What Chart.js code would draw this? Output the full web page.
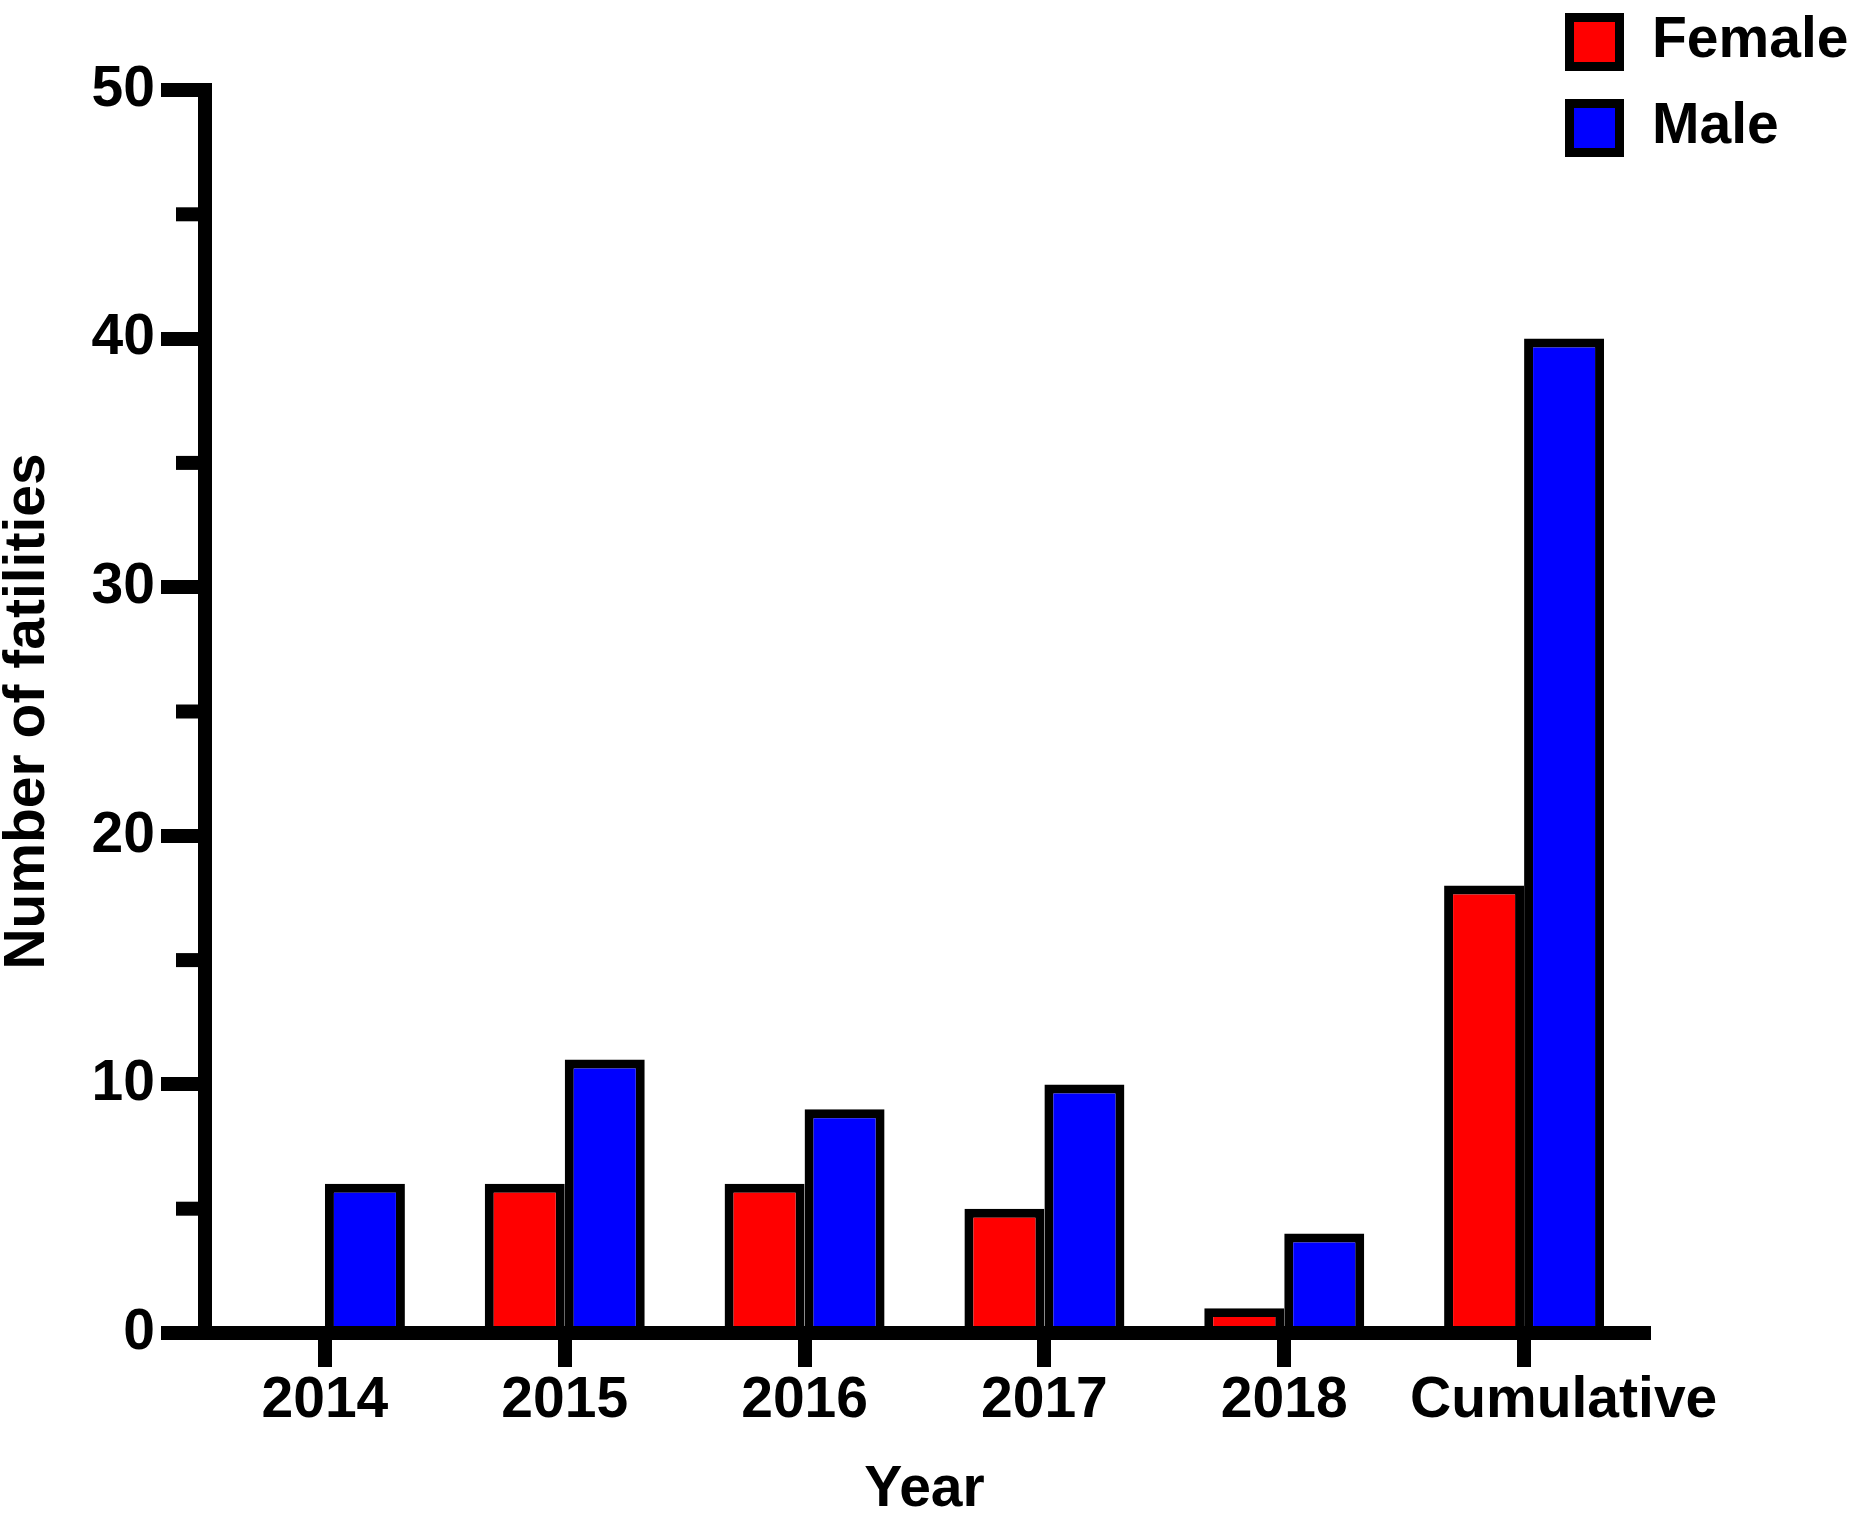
<!DOCTYPE html>
<html>
<head>
<meta charset="utf-8">
<title>Number of fatilities by year</title>
<script src="https://cdn.jsdelivr.net/npm/chart.js@4.4.0/dist/chart.umd.min.js"></script>
<style>
  body { margin: 0; background: #fff; }
</style>
</head>
<body>
<canvas id="chart" width="1862" height="1538"></canvas>
<script>
// values
const years = ['2014', '2015', '2016', '2017', '2018', 'Cumulative'];
const female = [0, 6, 6, 5, 1, 18];
const male = [6, 11, 9, 10, 4, 40];
const yMax = 50;
const yStep = 10;

const fontFamily = '"Liberation Sans", Arial, Helvetica, sans-serif';
Chart.defaults.font.family = fontFamily;
Chart.defaults.font.weight = 'bold';
Chart.defaults.font.size = 57;
Chart.defaults.color = '#000';

// short ticks halfway between the labelled ones
const minorTicks = {
  id: 'minorTicks',
  afterDraw(chart) {
    const scale = chart.scales.y;
    const left = chart.chartArea.left;
    const ctx = chart.ctx;
    ctx.save();
    ctx.strokeStyle = '#000';
    ctx.lineWidth = 14;
    for (let v = yStep / 2; v < yMax; v += yStep) {
      const py = scale.getPixelForValue(v);
      ctx.beginPath();
      ctx.moveTo(left - 29, py);
      ctx.lineTo(left, py);
      ctx.stroke();
    }
    ctx.restore();
  }
};

// legend stacked in the top right corner, boxes with a thick black edge
const boxLegend = {
  id: 'boxLegend',
  afterDraw(chart) {
    const ctx = chart.ctx;
    ctx.save();
    ctx.font = 'bold 57px ' + fontFamily;
    ctx.textBaseline = 'middle';
    chart.data.datasets.forEach((ds, i) => {
      const cy = 42 + i * 86;
      ctx.fillStyle = '#000';
      ctx.fillRect(1565, cy - 29, 59, 58);
      ctx.fillStyle = ds.backgroundColor;
      ctx.fillRect(1574, cy - 20, 41, 40);
      ctx.fillStyle = '#000';
      ctx.fillText(ds.label, 1652, cy - 1);
    });
    ctx.restore();
  }
};

const ctx = document.getElementById('chart').getContext('2d');
new Chart(ctx, {
  type: 'bar',
  data: {
    labels: years,
    datasets: [
      {
        label: 'Female',
        data: female,
        backgroundColor: '#ff0000',
        borderColor: '#000',
        borderWidth: 9
      },
      {
        label: 'Male',
        data: male,
        backgroundColor: '#0000ff',
        borderColor: '#000',
        borderWidth: 9
      }
    ]
  },
  options: {
    responsive: false,
    animation: false,
    datasets: {
      bar: { categoryPercentage: 0.667, barPercentage: 1 }
    },
    layout: {
      padding: { top: 90, right: 218, left: 0, bottom: 0 }
    },
    plugins: {
      legend: { display: false },
      tooltip: { enabled: false }
    },
    scales: {
      x: {
        z: 1,
        afterFit: (scale) => { scale.height = 205; },
        grid: {
          offset: false,
          drawOnChartArea: false,
          color: '#000',
          lineWidth: 14,
          tickLength: 34
        },
        border: { display: true, color: '#000', width: 14 },
        ticks: {
          autoSkip: false,
          padding: 6,
          maxRotation: 0,
          font: { size: 57, weight: 'bold', lineHeight: 1 },
          // the last (long) label sits a little right of its tick in the original
          callback: function(value, index) {
            const label = this.getLabelForValue(value);
            return index === years.length - 1 ? '     ' + label : label;
          }
        },
        title: {
          display: true,
          text: 'Year',
          padding: { top: 0, bottom: 19 },
          font: { size: 57, weight: 'bold', lineHeight: 1 }
        }
      },
      y: {
        z: 1,
        min: 0,
        max: yMax,
        afterFit: (scale) => { scale.width = 205; },
        grid: {
          drawOnChartArea: false,
          color: '#000',
          lineWidth: 14,
          tickLength: 44
        },
        border: { display: true, color: '#000', width: 14 },
        ticks: {
          stepSize: yStep,
          padding: 6,
          font: { size: 57, weight: 'bold', lineHeight: 1 }
        },
        title: {
          display: true,
          text: 'Number of fatilities',
          padding: { top: 0, bottom: 0 },
          font: { size: 57, weight: 'bold', lineHeight: 1 }
        }
      }
    }
  },
  plugins: [minorTicks, boxLegend]
});
</script>
</body>
</html>
